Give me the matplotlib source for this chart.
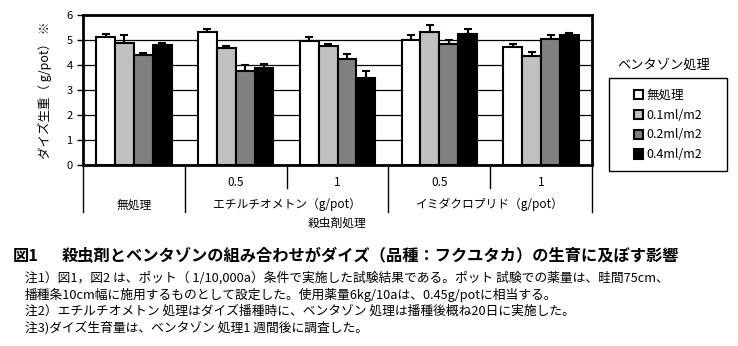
import numpy as np
import matplotlib
matplotlib.use("Agg")
import matplotlib.pyplot as plt
from matplotlib.patches import Patch, Rectangle

plt.rcParams['font.family'] = ['Noto Sans CJK JP', 'DejaVu Sans']

# data
groups = ['無処理', 'エチルチオメトン（g/pot）', 'イミダクロプリド（g/pot）']
sub_labels = ['', '0.5', '1', '0.5', '1']
series = ['無処理', '0.1ml/m2', '0.2ml/m2', '0.4ml/m2']
colors = ['white', '#c0c0c0', '#808080', 'black']
vals = [
    [5.13, 5.33, 4.96, 5.00, 4.73],
    [4.89, 4.69, 4.77, 5.33, 4.36],
    [4.39, 3.77, 4.25, 4.84, 5.05],
    [4.80, 3.87, 3.47, 5.23, 5.19],
]
errs = [
    [0.10, 0.11, 0.17, 0.21, 0.10],
    [0.30, 0.08, 0.08, 0.28, 0.16],
    [0.10, 0.24, 0.20, 0.17, 0.14],
    [0.07, 0.18, 0.29, 0.22, 0.10],
]

W, H = 738, 346
fig = plt.figure(figsize=(W / 100, H / 100), dpi=100)
ax = fig.add_axes([83 / W, 1 - 165 / H, 509 / W, 150 / H])

x = np.arange(5)
w = 0.185
for i in range(4):
    ax.bar(x + (i - 1.5) * w, vals[i], w, color=colors[i], edgecolor='black',
           linewidth=1.5, zorder=3,
           yerr=[np.zeros(5), errs[i]],
           error_kw=dict(ecolor='black', elinewidth=1.5, capsize=3.2, capthick=1.5, zorder=2))

ax.set_xlim(-0.5, 4.5)
ax.set_ylim(0, 6)
ax.set_yticks(range(7))
ax.tick_params(axis='y', labelsize=8, length=4, width=1)
ax.set_xticks([])
ax.yaxis.grid(True, color='black', linewidth=0.9)
ax.set_axisbelow(True)
for s in ax.spines.values():
    s.set_linewidth(2)
    s.set_color('black')
ax.set_ylabel('ダイズ生重（ g/pot） ※', fontsize=9, labelpad=10)

# two-level category axis
tr = ax.get_xaxis_transform()
for b in [-0.5, 0.5, 2.5, 4.5]:
    ax.plot([b, b], [0, -0.315], color='black', lw=1, transform=tr, clip_on=False)
for b in [1.5, 3.5]:
    ax.plot([b, b], [0, -0.155], color='black', lw=1, transform=tr, clip_on=False)
for xi, lab in zip(x, sub_labels):
    ax.text(xi, -0.12, lab, transform=tr, ha='center', va='center', fontsize=8.5)
for gx, g in zip([0, 1.5, 3.5], groups):
    ax.text(gx, -0.265, g, transform=tr, ha='center', va='center', fontsize=8.5)
fig.text(337 / W, 1 - 223 / H, '殺虫剤処理', ha='center', va='center', fontsize=8.5)

# legend: title above, black box around entries
fig.text(664 / W, 1 - 65 / H, 'ベンタゾン処理', ha='center', va='center', fontsize=9.5)
fig.patches.append(Rectangle((609 / W, 1 - 171 / H), 118 / W, 93 / H, transform=fig.transFigure,
                             fill=False, edgecolor='black', linewidth=1))
handles = [Patch(facecolor=c, edgecolor='black', linewidth=1.5) for c in colors]
leg = fig.legend(handles, series, loc='center', bbox_to_anchor=(668 / W, 1 - 125 / H),
                 fontsize=9, frameon=False, handlelength=0.75, handleheight=0.75,
                 handletextpad=0.25, labelspacing=0.55, borderpad=0, borderaxespad=0)

# caption and notes
fig.text(13 / W, 1 - 256 / H, '図1', ha='left', va='center', fontsize=11.7, fontweight='bold')
fig.text(62 / W, 1 - 256 / H,
         '殺虫剤とベンタゾンの組み合わせがダイズ（品種：フクユタカ）の生育に及ぼす影響',
         ha='left', va='center', fontsize=11.7, fontweight='bold')
notes = [
    '注1）図1，図2 は、ポット（ 1/10,000a）条件で実施した試験結果である。ポット 試験での薬量は、畦間75cm、',
    '播種条10cm幅に施用するものとして設定した。使用薬量6kg/10aは、0.45g/potに相当する。',
    '注2）エチルチオメトン 処理はダイズ播種時に、ベンタゾン 処理は播種後概ね20日に実施した。',
    '注3)ダイズ生育量は、ベンタゾン 処理1 週間後に調査した。',
]
for n, yy in zip(notes, [278, 295, 311, 328]):
    fig.text(25 / W, 1 - yy / H, n, ha='left', va='center', fontsize=9.2)

fig.savefig('out.png', dpi=100)
